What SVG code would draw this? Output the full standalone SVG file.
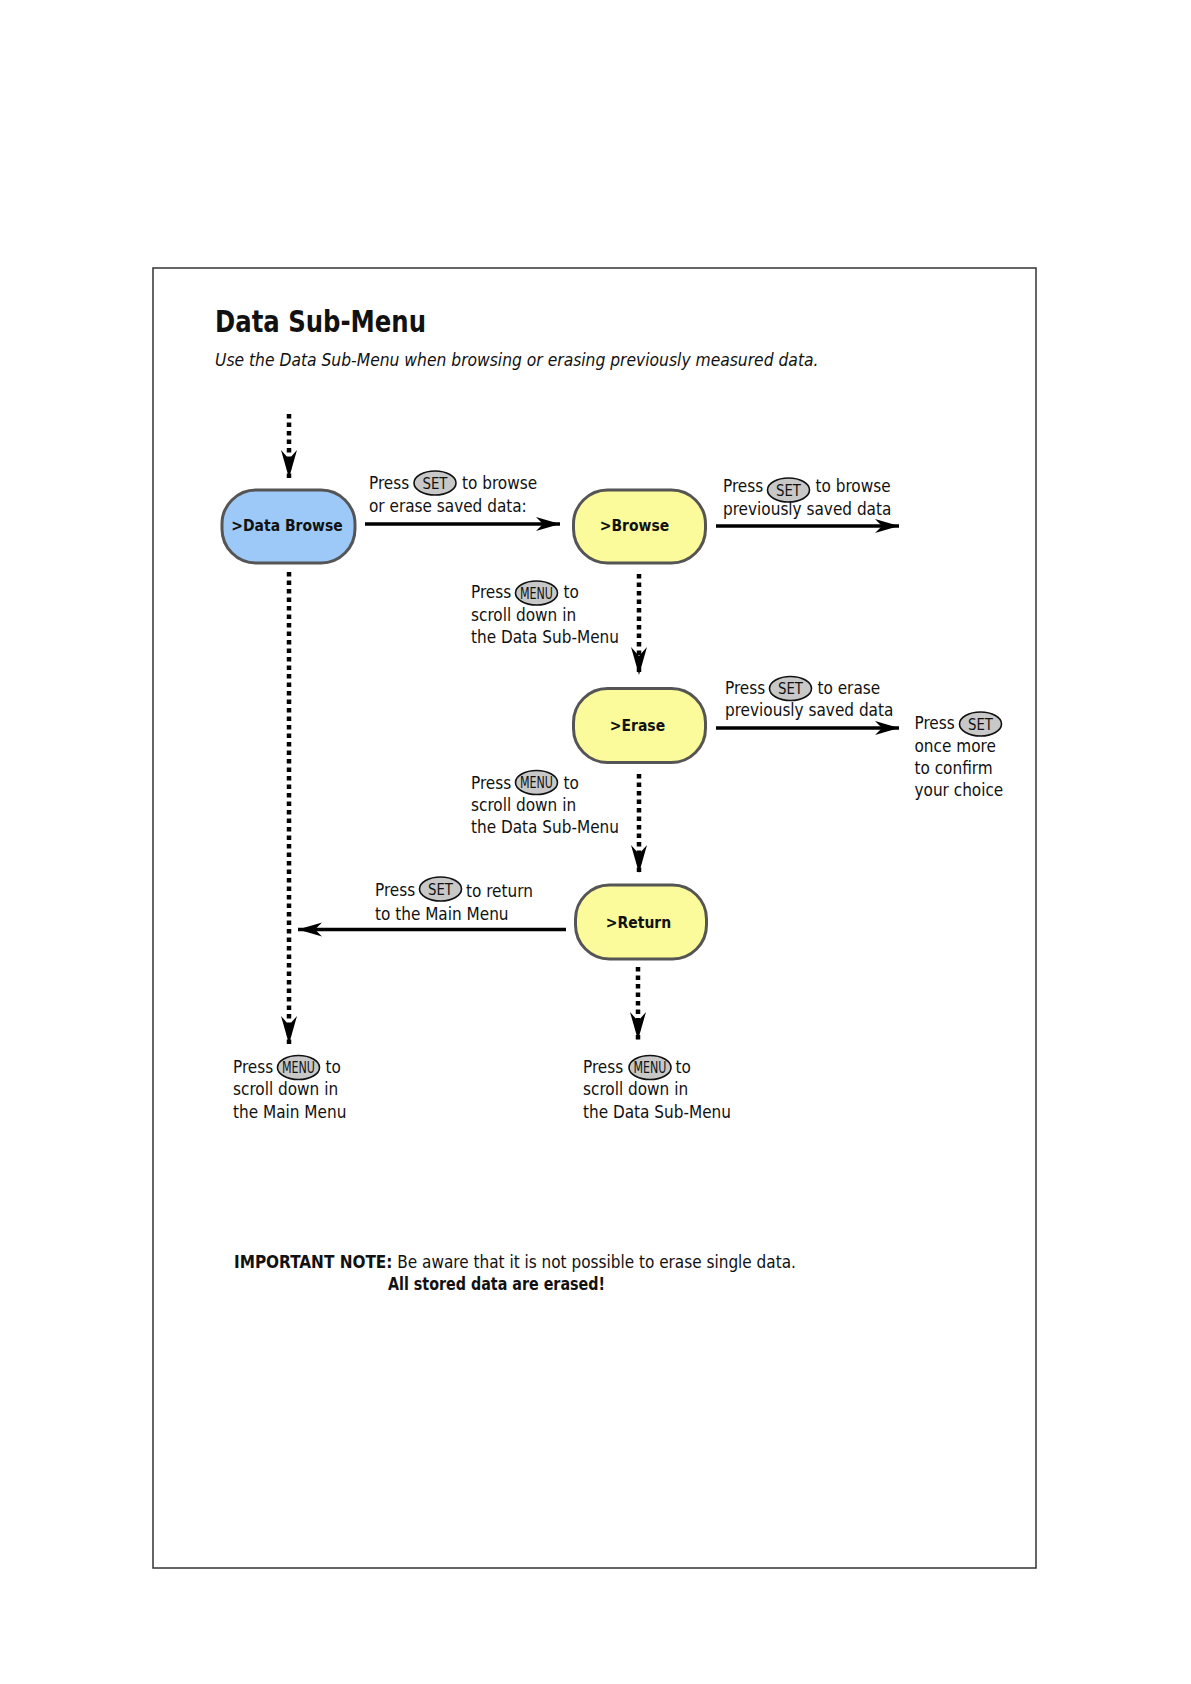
<svg xmlns="http://www.w3.org/2000/svg" width="1191" height="1684" viewBox="0 0 1191 1684">
<style>
text{font-family:"DejaVu Sans Condensed","DejaVu Sans",sans-serif;font-stretch:condensed;fill:#111}
.t{font-size:17px}
.n{font-size:15.5px;font-weight:bold;text-anchor:middle}
.btn{fill:#c8c8c8;stroke:#111;stroke-width:1.6}
.bt{font-size:15px;text-anchor:middle}
.solid{stroke:#000;stroke-width:3.5;fill:none;marker-end:url(#ah)}
.dot{stroke:#000;stroke-width:4.5;fill:none;stroke-dasharray:4.5 4;marker-end:url(#ahd)}
.blue{fill:#9cc9f8;stroke:#555;stroke-width:3}
.yel{fill:#fbfb9c;stroke:#555;stroke-width:3}
</style>
<defs>
<marker id="ah" markerUnits="userSpaceOnUse" markerWidth="26" markerHeight="16" refX="24" refY="7" orient="auto">
<path d="M0,0 L24,7 L0,14 L7,7 z" fill="#000"/>
</marker>
<marker id="ahd" markerUnits="userSpaceOnUse" markerWidth="30" markerHeight="18" refX="28" refY="8" orient="auto">
<path d="M0,0 L28,8 L0,16 L9,8 z" fill="#000"/>
</marker>
</defs>
<rect x="153" y="268" width="883" height="1300" fill="#fff" stroke="#333" stroke-width="1.5"/>
<text x="215" y="332" style="font-size:31px;font-weight:bold" textLength="211" lengthAdjust="spacingAndGlyphs">Data Sub-Menu</text>
<text x="215" y="366" style="font-size:17.3px;font-style:italic">Use the Data Sub-Menu when browsing or erasing previously measured data.</text>

<g id="connectors">
<line class="dot" x1="289" y1="414" x2="289" y2="478"/>
<line class="solid" x1="365" y1="524" x2="560" y2="524"/>
<line class="solid" x1="716" y1="526" x2="899" y2="526"/>
<line class="dot" x1="639" y1="574" x2="639" y2="675"/>
<line class="solid" x1="716" y1="728" x2="899" y2="728"/>
<line class="dot" x1="639" y1="774" x2="639" y2="873"/>
<line class="solid" x1="566" y1="929.5" x2="298" y2="929.5"/>
<line class="dot" x1="289" y1="572" x2="289" y2="1044"/>
<line class="dot" x1="638" y1="967" x2="638" y2="1040"/>
</g>

<g id="node-data-browse">
<rect class="blue" x="222" y="490" width="133" height="73" rx="34"/>
<text class="n" x="287" y="531">&gt;Data Browse</text>
</g>
<g id="node-browse">
<rect class="yel" x="573.5" y="490" width="132" height="73" rx="34"/>
<text class="n" x="634.5" y="531">&gt;Browse</text>
</g>
<g id="node-erase">
<rect class="yel" x="573.5" y="688.5" width="132" height="74" rx="34"/>
<text class="n" x="637.5" y="731">&gt;Erase</text>
</g>
<g id="node-return">
<rect class="yel" x="575.5" y="885" width="131" height="74" rx="34"/>
<text class="n" x="638.5" y="928">&gt;Return</text>
</g>

<g id="label-set-browse">
<text class="t" x="369" y="489">Press</text>
<ellipse class="btn" cx="435" cy="483" rx="21" ry="12"/>
<text class="bt" x="435" y="488.5" textLength="25" lengthAdjust="spacingAndGlyphs">SET</text>
<text class="t" x="462" y="489">to browse</text>
<text class="t" x="369" y="512">or erase saved data:</text>
</g>
<g id="label-browse-right">
<text class="t" x="723" y="492">Press</text>
<ellipse class="btn" cx="788.5" cy="490" rx="21" ry="12"/>
<text class="bt" x="788.5" y="495.5" textLength="25" lengthAdjust="spacingAndGlyphs">SET</text>
<text class="t" x="815.5" y="492">to browse</text>
<text class="t" x="723" y="515">previously saved data</text>
</g>
<g id="label-menu-1">
<text class="t" x="471" y="598">Press</text>
<ellipse class="btn" cx="536.5" cy="593" rx="21" ry="12"/>
<text class="bt" x="536.5" y="598.5" textLength="33" lengthAdjust="spacingAndGlyphs">MENU</text>
<text class="t" x="563.5" y="598">to</text>
<text class="t" x="471" y="621">scroll down in</text>
<text class="t" x="471" y="643">the Data Sub-Menu</text>
</g>
<g id="label-erase-right">
<text class="t" x="725" y="693.5">Press</text>
<ellipse class="btn" cx="790.5" cy="688.5" rx="21" ry="12"/>
<text class="bt" x="790.5" y="694" textLength="25" lengthAdjust="spacingAndGlyphs">SET</text>
<text class="t" x="817.5" y="693.5">to erase</text>
<text class="t" x="725" y="716">previously saved data</text>
</g>
<g id="label-confirm">
<text class="t" x="914.5" y="729">Press</text>
<ellipse class="btn" cx="980.5" cy="724" rx="21" ry="12"/>
<text class="bt" x="980.5" y="729.5" textLength="25" lengthAdjust="spacingAndGlyphs">SET</text>
<text class="t" x="914.5" y="752">once more</text>
<text class="t" x="914.5" y="774">to confirm</text>
<text class="t" x="914.5" y="795.5">your choice</text>
</g>
<g id="label-menu-2">
<text class="t" x="471" y="788.5">Press</text>
<ellipse class="btn" cx="536.5" cy="782.5" rx="21" ry="12"/>
<text class="bt" x="536.5" y="788" textLength="33" lengthAdjust="spacingAndGlyphs">MENU</text>
<text class="t" x="563.5" y="788.5">to</text>
<text class="t" x="471" y="810.5">scroll down in</text>
<text class="t" x="471" y="833">the Data Sub-Menu</text>
</g>
<g id="label-return">
<text class="t" x="375" y="896">Press</text>
<ellipse class="btn" cx="440.5" cy="889" rx="21" ry="12"/>
<text class="bt" x="440.5" y="894.5" textLength="25" lengthAdjust="spacingAndGlyphs">SET</text>
<text class="t" x="466" y="897">to return</text>
<text class="t" x="375" y="919.5">to the Main Menu</text>
</g>
<g id="label-main-menu">
<text class="t" x="233" y="1073">Press</text>
<ellipse class="btn" cx="298.5" cy="1067.5" rx="21" ry="12"/>
<text class="bt" x="298.5" y="1073" textLength="33" lengthAdjust="spacingAndGlyphs">MENU</text>
<text class="t" x="325.5" y="1073">to</text>
<text class="t" x="233" y="1095">scroll down in</text>
<text class="t" x="233" y="1118">the Main Menu</text>
</g>
<g id="label-sub-menu">
<text class="t" x="583" y="1073">Press</text>
<ellipse class="btn" cx="650" cy="1067.5" rx="21" ry="12"/>
<text class="bt" x="650" y="1073" textLength="33" lengthAdjust="spacingAndGlyphs">MENU</text>
<text class="t" x="675.5" y="1073">to</text>
<text class="t" x="583" y="1095">scroll down in</text>
<text class="t" x="583" y="1118">the Data Sub-Menu</text>
</g>
<g id="note">
<text class="t" x="234" y="1268"><tspan font-weight="bold">IMPORTANT NOTE:</tspan> Be aware that it is not possible to erase single data.</text>
<text class="t" x="388" y="1290" font-weight="bold" textLength="217" lengthAdjust="spacingAndGlyphs">All stored data are erased!</text>
</g>
</svg>
